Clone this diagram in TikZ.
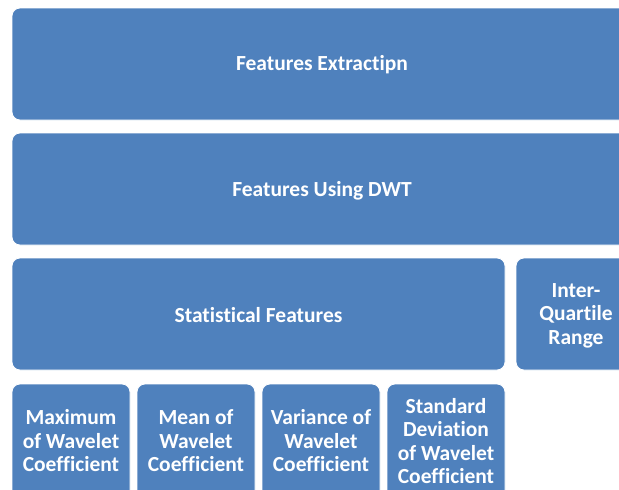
\documentclass[tikz,border=0pt]{standalone}
\usepackage{fontspec}
\setmainfont[Ligatures={NoCommon}]{Carlito}
\definecolor{boxblue}{HTML}{4F81BD}
\begin{document}
\begin{tikzpicture}[x=1pt,y=-1pt,
  blk/.style={fill=boxblue,draw=white,line width=0.8pt,rounded corners=8pt},
  lbl/.style={text=white,font=\bfseries\fontsize{21.5}{23.5}\selectfont,align=center,inner sep=0pt}]
\useasboundingbox (0,0) rectangle (619,490);
\begin{scope}
\clip (0,0) rectangle (619,490);
\draw[blk] (12,8) rectangle (632,120);
\draw[blk] (12,133) rectangle (632,245);
\draw[blk] (12,258) rectangle (505,370);
\draw[blk] (516,258) rectangle (636,370);
\draw[blk] (12,384) rectangle (130,500);
\draw[blk] (137,384) rectangle (255,500);
\draw[blk] (262,384) rectangle (380,500);
\draw[blk] (387,384) rectangle (505,500);
\end{scope}
\node[lbl] (fe) at (322,64.5) {Features Extractipn};
\node[lbl] (dwt) at (322,190.5) {Features Using DWT};
\node[lbl] (sf) at (258.5,315) {Statistical Features};
\node[lbl] (iqr) at (576,315.5) {Inter-\\Quartile\\Range};
\node[lbl] (max) at (71,441) {Maximum\\of Wavelet\\Coefficient};
\node[lbl] (mean) at (196,441) {Mean of\\Wavelet\\Coefficient};
\node[lbl] (var) at (321,441) {Variance of\\Wavelet\\Coefficient};
\node[lbl] (std) at (446,441) {Standard\\Deviation\\of Wavelet\\Coefficient};
\end{tikzpicture}
\end{document}
